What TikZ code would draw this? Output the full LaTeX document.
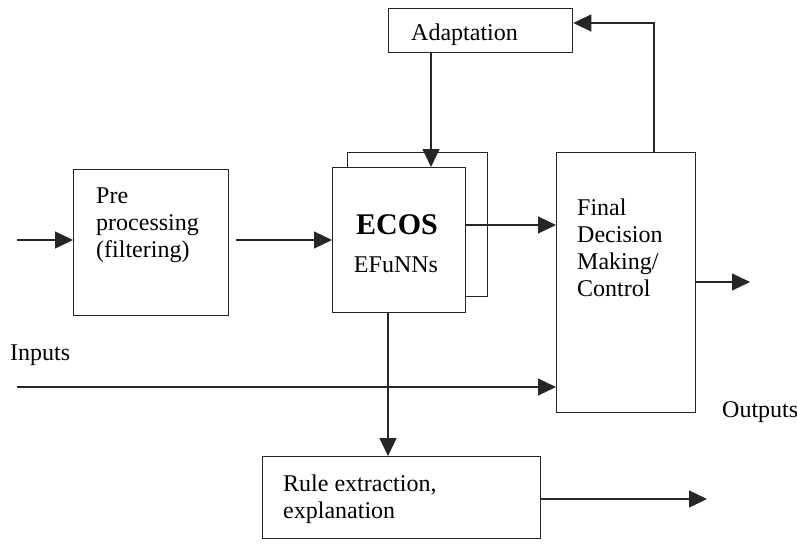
\documentclass[tikz,border=0pt]{standalone}
\usepackage{fontspec}
\setmainfont{Liberation Serif}
\usetikzlibrary{arrows.meta}
\begin{document}
\begin{tikzpicture}[x=1pt,y=-1pt,
  box/.style={draw=black!85,line width=1.3pt,anchor=north west,inner sep=0pt,fill=white},
  arr/.style={draw=black!85,line width=1.2pt,-{Triangle[length=18pt,width=17pt]}},
  plain/.style={draw=black!85,line width=1.2pt},
  txt/.style={anchor=base west,inner sep=0pt,font=\fontsize{24}{27}\selectfont}]
\useasboundingbox[fill=white] (0,0) rectangle (797,543);
% boxes
\node[box,minimum width=184pt,minimum height=44pt] (adapt) at (388,8) {};
\node[box,minimum width=155pt,minimum height=146pt] (pre) at (73,169) {};
\node[box,minimum width=140pt,minimum height=144pt] (ecosback) at (347,152) {};
\node[box,minimum width=133pt,minimum height=145pt] (ecos) at (332,167) {};
\node[box,minimum width=139pt,minimum height=260pt] (final) at (556,152) {};
\node[box,minimum width=278pt,minimum height=82pt] (rule) at (262,456) {};
% texts
\node[txt] (tadapt) at (411,41) {Adaptation};
\node[txt] (tpre) at (96,203) {\begin{tabular}[t]{@{}l@{}}Pre\\processing\\(filtering)\end{tabular}};
\node[anchor=base,inner sep=0pt,font=\fontsize{30}{32}\selectfont\bfseries] (tecos) at (397,234) {ECOS};
\node[anchor=base,inner sep=0pt,font=\fontsize{24}{27}\selectfont] (tefu) at (396,272) {EFuNNs};
\node[txt] (tfinal) at (577,215) {\begin{tabular}[t]{@{}l@{}}Final\\Decision\\Making/\\Control\end{tabular}};
\node[txt] (trule) at (283,491) {\begin{tabular}[t]{@{}l@{}}Rule extraction,\\explanation\end{tabular}};
\node[txt] (tin) at (10,360) {Inputs};
\node[txt] (tout) at (722,417) {Outputs};
% free ends
\coordinate (inA) at (17,240);
\coordinate (inB) at (17,387);
\coordinate (outF) at (750,282);
\coordinate (outR) at (707,499);
% connectors
\draw[arr] (inA) -- (pre.west |- inA);
\draw[arr] ([xshift=7pt]pre.east |- inA) -- (ecos.west |- inA);
\draw[arr] (adapt.south -| 431,0) -- (ecos.north -| 431,0);
\draw[arr] (ecos.east |- 0,225) -- (final.west |- 0,225);
\draw[arr] (inB) -- (final.west |- inB);
\draw[arr] (ecos.south -| 388,0) -- (rule.north -| 388,0);
\draw[arr] (final.north -| 654,0) |- (adapt.east |- 0,23);
\draw[arr] (final.east |- outF) -- (outF);
\draw[arr] (rule.east |- outR) -- (outR);
\end{tikzpicture}
\end{document}
